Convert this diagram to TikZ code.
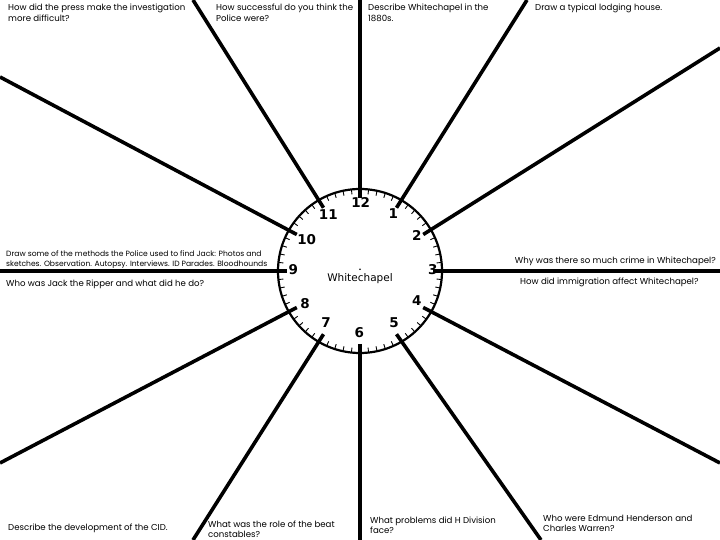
\documentclass[tikz,border=0pt]{standalone}
\usepackage{fontspec}
\setmainfont{Poppins}
\newfontfamily\clockfont{DejaVu Sans}
\usetikzlibrary{calc}
\begin{document}
\begin{tikzpicture}[x=1pt,y=1pt,
  spoke/.style={line width=3.6pt},
  rim/.style={line width=2.2pt},
  minutetick/.style={line width=0.9pt},
  qlabel/.style={font=\fontsize{8.6}{10.3}\selectfont, inner sep=0pt, align=left, anchor=north west},
  numeral/.style={font=\clockfont\bfseries\fontsize{13.5}{13.5}\selectfont, inner sep=0pt}]
\useasboundingbox (0,0) rectangle (720,540);
\fill[white] (0,0) rectangle (720,540);
\coordinate (C) at (360,269);
% outer ends
\coordinate (e12) at (360,540);
\coordinate (e1) at (527,540);
\coordinate (e2) at (720,492);
\coordinate (e3) at (720,269);
\coordinate (e4) at (720,77);
\coordinate (e5) at (541,0);
\coordinate (e6) at (360,0);
\coordinate (e7) at (193,0);
\coordinate (e8) at (0,77);
\coordinate (e9) at (0,269);
\coordinate (e10) at (0,463);
\coordinate (e11) at (193,540);
% inner ends
\foreach \h in {1,...,12}{
  \path (C) ++({90-30*\h}:73) coordinate (i\h);
}
% minute ticks
\foreach \m in {0,...,59}{
  \draw[minutetick] ($(C)+({6*\m}:82)$) -- ($(C)+({6*\m}:77)$);
}
\node[circle, draw, rim, minimum size=164pt, inner sep=0pt] (clock) at (C) {};
\foreach \h in {1,...,12}{
  \draw[spoke] (i\h) -- (e\h);
}
% numerals
\node[numeral] (n12) at (360.7,337.3) {12};
\node[numeral] (n1) at (393.3,326.7) {1};
\node[numeral] (n2) at (416.7,305) {2};
\node[numeral] (n3) at (432.7,270.7) {3};
\node[numeral] (n4) at (416.7,239.3) {4};
\node[numeral] (n5) at (394,217.3) {5};
\node[numeral] (n6) at (359.3,207.3) {6};
\node[numeral] (n7) at (326,217.3) {7};
\node[numeral] (n8) at (305,236) {8};
\node[numeral] (n9) at (293.3,270.7) {9};
\node[numeral] (n10) at (306.7,300.7) {10};
\node[numeral] (n11) at (328.3,325.7) {11};
\fill (360,270.7) circle (0.9pt) coordinate (dot);
\node[font=\clockfont\fontsize{10.5}{10.5}\selectfont, inner sep=0pt] (centre) at (360,261) {Whitechapel};
% question labels
\node[qlabel] (q1) at (8,536) {How did the press make the investigation\\more difficult?};
\node[qlabel] (q2) at (216,536) {How successful do you think the\\Police were?};
\node[qlabel] (q3) at (368,536) {Describe Whitechapel in the\\1880s.};
\node[qlabel] (q4) at (535,536) {Draw a typical lodging house.};
\node[qlabel, font=\fontsize{7.6}{10.5}\selectfont] (q5) at (6,290) {Draw some of the methods the Police used to find Jack: Photos and\\sketches. Observation. Autopsy. Interviews. ID Parades. Bloodhounds};
\node[qlabel] (q6) at (6,260.5) {Who was Jack the Ripper and what did he do?};
\node[qlabel, anchor=north east] (q7) at (716,283.5) {Why was there so much crime in Whitechapel?};
\node[qlabel] (q8) at (520,262.5) {How did immigration affect Whitechapel?};
\node[qlabel] (q9) at (8,16.5) {Describe the development of the CID.};
\node[qlabel] (q10) at (208,19.5) {What was the role of the beat\\constables?};
\node[qlabel] (q11) at (370,23.5) {What problems did H Division\\face?};
\node[qlabel] (q12) at (543,25) {Who were Edmund Henderson and\\Charles Warren?};
\end{tikzpicture}
\end{document}
